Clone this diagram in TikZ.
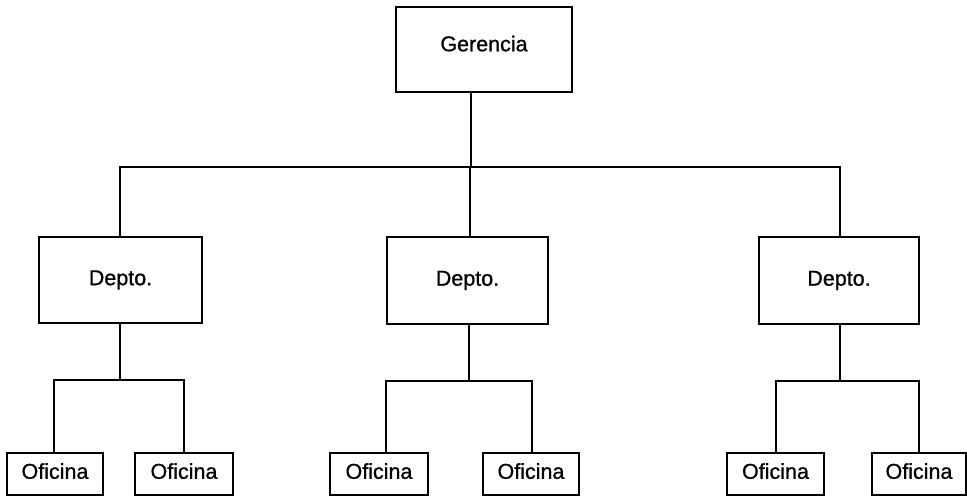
\documentclass[tikz,border=0pt]{standalone}
\usepackage{fontspec}
\setmainfont{Liberation Sans}
\newfontfamily\boxfont[FakeBold=0.8]{Liberation Sans}
\begin{document}
\begin{tikzpicture}[x=1pt,y=-1pt,
  box/.style={draw=black,line width=1.5pt,rectangle,inner sep=0pt,font=\boxfont\fontsize{21.5}{24}\selectfont,text=black},
  conn/.style={draw=black,line width=1.5pt}]
\useasboundingbox[fill=white] (0,0) rectangle (967,500);
% top
\node[box,minimum width=176pt,minimum height=85pt,text depth=12pt] (ger) at (484,49.5) {Gerencia};
% departments
\node[box,minimum width=163pt,minimum height=86pt] (d1) at (120.5,280) {Depto.};
\node[box,minimum width=161pt,minimum height=87pt] (d2) at (467.5,280.5) {Depto.};
\node[box,minimum width=160pt,minimum height=87pt] (d3) at (839,280.5) {Depto.};
% offices
\node[box,minimum width=96pt,minimum height=42pt,text depth=6pt] (o1) at (55,474) {Oficina};
\node[box,minimum width=98pt,minimum height=42pt,text depth=6pt] (o2) at (184,474) {Oficina};
\node[box,minimum width=98pt,minimum height=42pt,text depth=6pt] (o3) at (379,474) {Oficina};
\node[box,minimum width=96pt,minimum height=42pt,text depth=6pt] (o4) at (531,474) {Oficina};
\node[box,minimum width=97pt,minimum height=42pt,text depth=6pt] (o5) at (775.5,474) {Oficina};
\node[box,minimum width=94pt,minimum height=42pt,text depth=6pt] (o6) at (919,474) {Oficina};
% main bus
\coordinate (bm) at (471,167);
\coordinate (bc) at (470,167);
\coordinate (bl) at (120,167);
\coordinate (br) at (840,167);
\draw[conn] (ger.south -| bm) -- (bm);
\draw[conn] (d1.north -| bl) -- (bl) -- (br) -- (d3.north -| br);
\draw[conn] (bc) -- (d2.north -| bc);
% sub buses
\coordinate (s1) at (120,380);
\coordinate (s1l) at (54,380);
\coordinate (s1r) at (184,380);
\draw[conn] (d1.south -| s1) -- (s1);
\draw[conn] (o1.north -| s1l) -- (s1l) -- (s1r) -- (o2.north -| s1r);
\coordinate (s2) at (469,381);
\coordinate (s2l) at (386,381);
\coordinate (s2r) at (532,381);
\draw[conn] (d2.south -| s2) -- (s2);
\draw[conn] (o3.north -| s2l) -- (s2l) -- (s2r) -- (o4.north -| s2r);
\coordinate (s3) at (840,381);
\coordinate (s3l) at (776,381);
\coordinate (s3r) at (919,381);
\draw[conn] (d3.south -| s3) -- (s3);
\draw[conn] (o5.north -| s3l) -- (s3l) -- (s3r) -- (o6.north -| s3r);
\end{tikzpicture}
\end{document}
